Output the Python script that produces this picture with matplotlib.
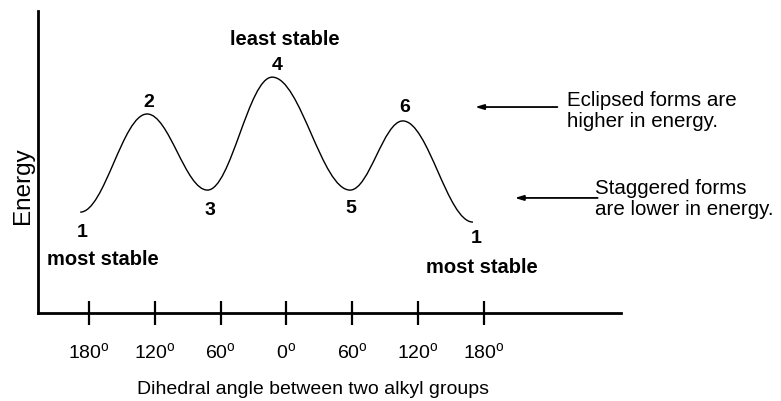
import matplotlib.pyplot as plt
from matplotlib.path import Path
from matplotlib.patches import PathPatch

plt.rcParams['font.family'] = ['Liberation Sans', 'DejaVu Sans']
plt.rcParams['mathtext.fontset'] = 'custom'
plt.rcParams['mathtext.rm'] = 'Liberation Sans'

# conformations met while rotating about the central C-C bond
conformers = ['1', '2', '3', '4', '5', '6', '1']
angle_pos = [-188, -127, -72, -13, 58, 106, 170]   # degrees
energy = [3.34, 6.59, 4.07, 7.81, 4.07, 6.36, 3.01]  # arbitrary units

tick_angles = [-180, -120, -60, 0, 60, 120, 180]
tick_labels = ['180', '120', '60', '0', '60', '120', '180']

# where each number sits relative to its point (pixels, x right / y up)
label_offsets = [(2, -19), (2, 12), (2, -19), (5, 13), (1, -17), (2, 14), (3, -15)]

fig = plt.figure(figsize=(7.81, 4.02), dpi=100)
ax = fig.add_axes([37.5 / 781, 88 / 402, 583.5 / 781, 302 / 402])
ax.set_xlim(-226.9, 304.9)
ax.set_ylim(0, 10)

# smooth energy profile: cubic segments with flat tangents at every extremum
pts = list(zip(angle_pos, energy))
verts = [pts[0]]
codes = [Path.MOVETO]
k = 0.364
for (x0, y0), (x1, y1) in zip(pts[:-1], pts[1:]):
    dx = x1 - x0
    verts += [(x0 + k * dx, y0), (x1 - k * dx, y1), (x1, y1)]
    codes += [Path.CURVE4] * 3
ax.add_patch(PathPatch(Path(verts, codes), fill=False, lw=1.0, color='black'))

for name, x, y, off in zip(conformers, angle_pos, energy, label_offsets):
    ax.annotate(name, (x, y), xytext=off, textcoords='offset pixels',
                ha='center', va='center', fontsize=14, fontweight='bold')

ax.annotate('most stable', (angle_pos[0], energy[0]), xytext=(23, -46),
            textcoords='offset pixels', ha='center', va='center',
            fontsize=14.5, fontweight='bold')
ax.annotate('least stable', (angle_pos[3], energy[3]), xytext=(13, 39),
            textcoords='offset pixels', ha='center', va='center',
            fontsize=14.5, fontweight='bold')
ax.annotate('most stable', (angle_pos[-1], energy[-1]), xytext=(9, -44),
            textcoords='offset pixels', ha='center', va='center',
            fontsize=14.5, fontweight='bold')

# side notes with arrows pointing back at the curve
arrow = dict(arrowstyle='-|>,head_length=0.5,head_width=0.15', lw=1.3, color='black',
             shrinkA=0, shrinkB=0)
ax.annotate('', xy=(0.750, 0.682), xytext=(0.891, 0.682),
            xycoords='axes fraction', arrowprops=arrow)
ax.annotate('', xy=(0.818, 0.381), xytext=(0.960, 0.381),
            xycoords='axes fraction', arrowprops=arrow)
ax.text(0.908, 0.671, 'Eclipsed forms are\nhigher in energy.', transform=ax.transAxes,
        ha='left', va='center', fontsize=14.8, linespacing=1.12)
ax.text(0.955, 0.382, 'Staggered forms\nare lower in energy.', transform=ax.transAxes,
        ha='left', va='center', fontsize=14.8, linespacing=1.12)

for side in ['top', 'right']:
    ax.spines[side].set_visible(False)
for side in ['left', 'bottom']:
    ax.spines[side].set_linewidth(2.0)

ax.set_yticks([])
ax.set_xticks(tick_angles)
ax.set_xticklabels([t + r'$^{\rm o}$' for t in tick_labels], fontsize=14)
ax.tick_params(axis='x', direction='inout', length=17, width=1.6, pad=12)
ax.patch.set_visible(False)

fig.text(22.5 / 781, 1 - 186 / 402, 'Energy', rotation=90, ha='center', va='center',
         fontsize=17.5)
fig.text(313 / 781, 1 - 390 / 402, 'Dihedral angle between two alkyl groups',
         ha='center', va='center', fontsize=14)

fig.savefig('out.png', dpi=100)
